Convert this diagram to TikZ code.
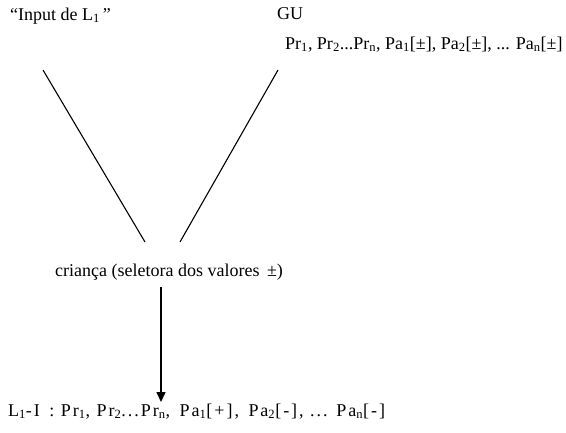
\documentclass[tikz,border=0pt]{standalone}
\usepackage{fontspec}
\setmainfont{Liberation Serif}
\usetikzlibrary{arrows.meta}
\newcommand{\sbs}[1]{\textsubscript{#1}}
\begin{document}
\begin{tikzpicture}[x=1pt,y=-1pt,
  lbl/.style={anchor=base west,inner sep=0pt,font=\fontsize{18}{21}\selectfont},
  conn/.style={line width=1.1pt,black}]
\useasboundingbox (0,0) rectangle (566,432);
\node[lbl] (input) at (10,20) {“Input de L\sbs{1}\,”};
\node[lbl] (gu) at (277,19) {GU};
\node[lbl] (gulist) at (285,49) {Pr\sbs{1}, Pr\sbs{2}...Pr\sbs{n}, Pa\sbs{1}[±], Pa\sbs{2}[±], ... Pa\sbs{n}[±]};
\node[lbl] (crianca) at (55,276) {criança (seletora dos valores \,±)};
\node[lbl,font=\fontsize{18}{21}\selectfont\addfontfeature{LetterSpace=11}] (result) at (8,416) {L\sbs{1}-I \,: Pr\sbs{1}, Pr\sbs{2}...Pr\sbs{n}, \,Pa\sbs{1}[+], \,Pa\sbs{2}[-], ... Pa\sbs{n}[-]};
\coordinate (l1) at (43,70);
\coordinate (l2) at (145,242);
\coordinate (r1) at (278,70);
\coordinate (r2) at (180,242);
\coordinate (a1) at (161,287);
\coordinate (a2) at (161,402);
\draw[conn] (l1) -- (l2);
\draw[conn] (r1) -- (r2);
\draw[conn,line width=1.5pt,-{Triangle[width=9pt,length=10pt]}] (a1) -- (a2);
\end{tikzpicture}
\end{document}
